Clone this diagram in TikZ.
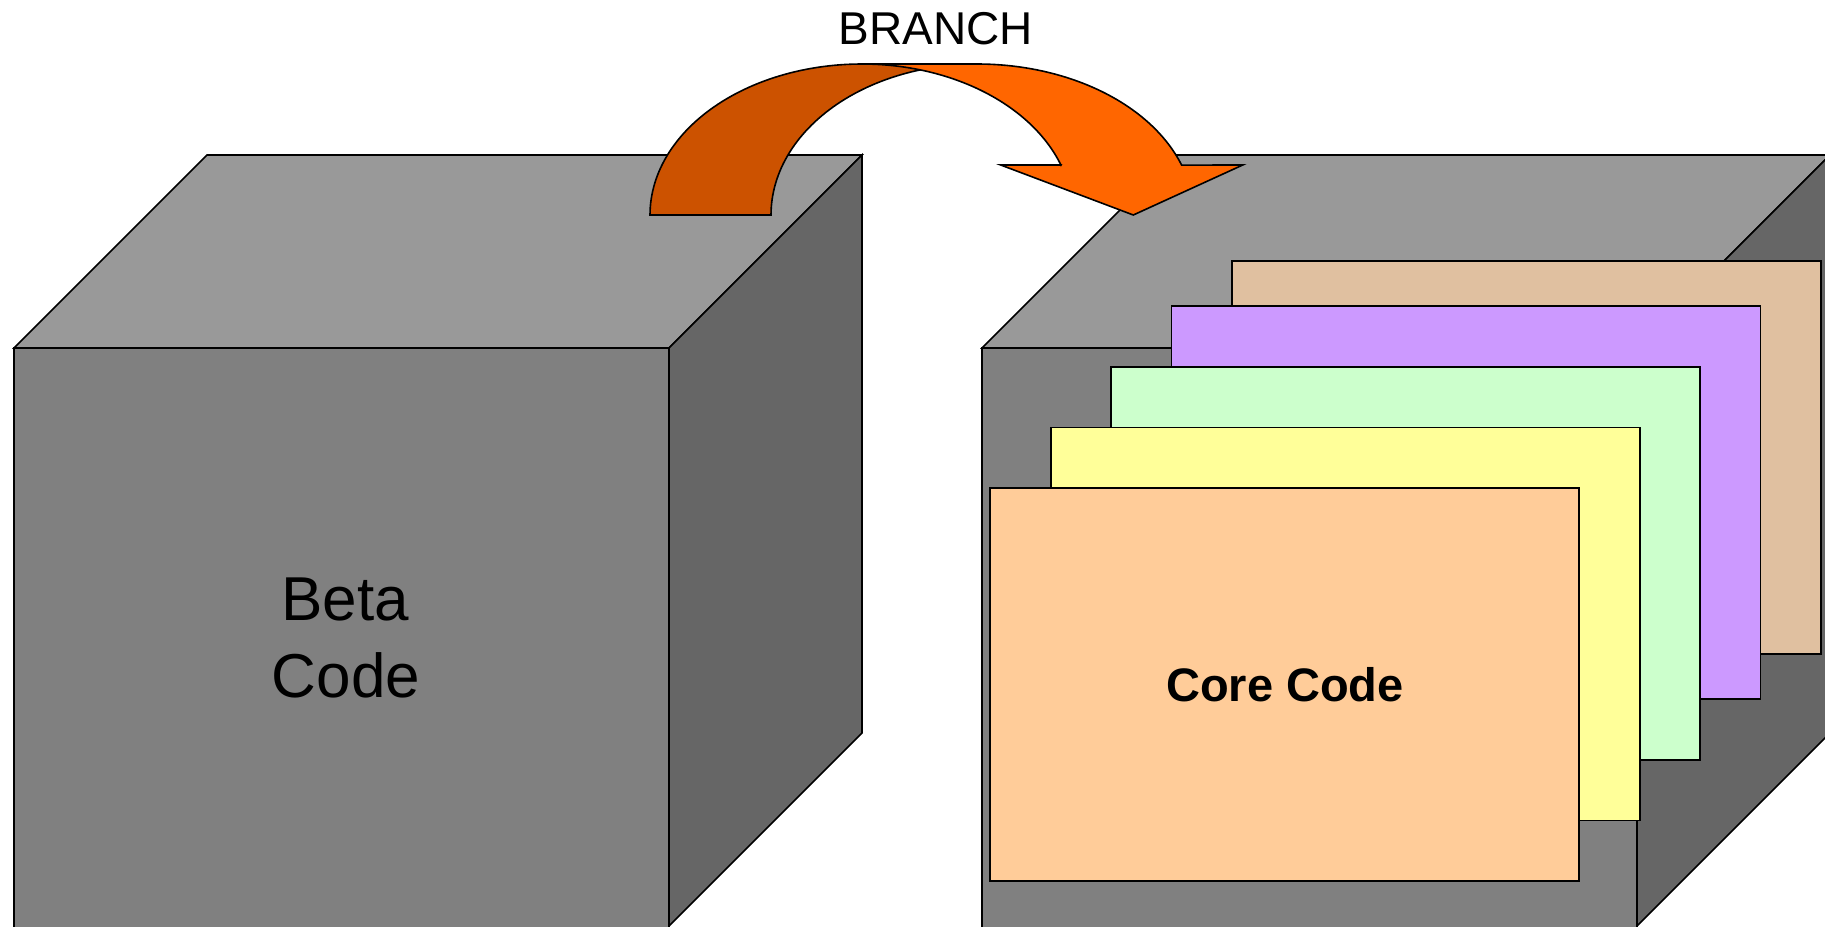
\documentclass[tikz,border=0pt]{standalone}
\usepackage{fontspec}
\setmainfont{Liberation Sans}
\definecolor{topgray}{HTML}{999999}
\definecolor{frontgray}{HTML}{808080}
\definecolor{sidegray}{HTML}{666666}
\definecolor{arrowdark}{HTML}{CC5200}
\definecolor{arroworange}{HTML}{FF6600}
\definecolor{cardtan}{HTML}{E0C0A0}
\definecolor{cardpurple}{HTML}{CC99FF}
\definecolor{cardgreen}{HTML}{CCFFCC}
\definecolor{cardyellow}{HTML}{FFFF99}
\definecolor{cardpeach}{HTML}{FFCC99}
\begin{document}
\begin{tikzpicture}[x=1pt,y=-1pt,
  face/.style={draw=black,line width=1.6pt},
  card/.style={draw=black,line width=1.6pt,minimum width=589pt,minimum height=393pt,anchor=north west,inner sep=0pt,outer sep=0pt},
  arrowpart/.style={draw=black,line width=1.6pt},
  labeltext/.style={anchor=base,inner sep=0pt}]
\useasboundingbox (0,0) rectangle (1825,926);
\fill[white] (0,0) rectangle (1825,926);
\clip (0,0) rectangle (1825,926);
% left cube
\path[face,fill=frontgray] (14,348) -- (669,348) -- (669,928) -- (14,928) -- cycle;
\path[face,fill=topgray] (14,348) -- (207,155) -- (862,155) -- (669,348) -- cycle;
\path[face,fill=sidegray] (669,348) -- (862,155) -- (862,733) -- (669,926) -- cycle;
% right cube
\path[face,fill=frontgray] (982,348) -- (1637,348) -- (1637,928) -- (982,928) -- cycle;
\path[face,fill=topgray] (982,348) -- (1175,155) -- (1830,155) -- (1637,348) -- cycle;
\path[face,fill=sidegray] (1637,348) -- (1830,155) -- (1830,733) -- (1637,926) -- cycle;
% cards
\node[card,fill=cardtan] (tan) at (1232,261) {};
\node[card,fill=cardpurple] (purple) at (1171.5,306) {};
\node[card,fill=cardgreen] (green) at (1111,367) {};
\node[card,fill=cardyellow] (yellow) at (1051,427.5) {};
\node[card,fill=cardpeach] (peach) at (990,488) {};
% arrow
\path[arrowpart,fill=arrowdark] (650,215)
  -- plot[variable=\t,domain=180:270,samples=60] ({862+212*cos(\t)},{215+151*sin(\t)})
  -- (977,64)
  -- plot[variable=\t,domain=270:180,samples=60] ({977+206*cos(\t)},{215+151*sin(\t)})
  -- cycle;
\path[arrowpart,fill=arroworange] (862,64) -- (977,64)
  -- plot[variable=\t,domain=270:340.7,samples=60] ({977+216.8*cos(\t)},{215+151*sin(\t)})
  -- (1242.7,165) -- (1133.3,215) -- (1000.7,165) -- (1061,165)
  -- plot[variable=\t,domain=340.7:270,samples=60] ({862+210.8*cos(\t)},{215+151*sin(\t)})
  -- cycle;
% texts
\node[labeltext,font=\fontsize{46}{55}\selectfont] (branch) at (936,44.3) {BRANCH};
\node[labeltext,font=\fontsize{62}{74}\selectfont] (betaA) at (345,620) {Beta};
\node[labeltext,font=\fontsize{62}{74}\selectfont] (betaB) at (346,697) {Code};
\node[labeltext,font=\fontsize{47}{56}\selectfont\bfseries] (core) at (1285,701) {Core Code};
\end{tikzpicture}
\end{document}
